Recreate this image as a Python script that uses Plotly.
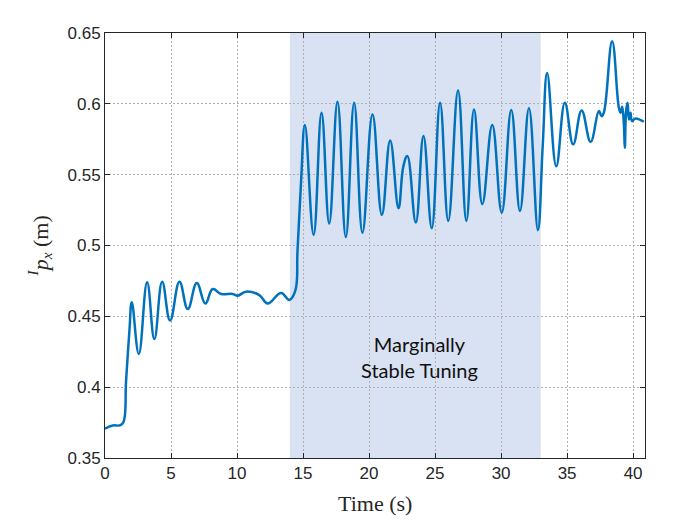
import plotly.graph_objects as go

# Signal samples (time in s, position in m)
time_s = [0.0, 0.59, 1.1, 1.38, 1.6, 1.85, 2.03, 2.56, 3.19, 3.74, 4.33, 4.93, 5.64, 6.27, 6.95,
          7.6, 8.16, 8.79, 9.67, 10.05, 10.68, 11.69, 12.32, 13.33, 13.96, 14.41, 14.58,
          14.85, 15.14, 15.8, 16.4, 16.98, 17.61, 18.24, 18.87, 19.5, 20.26, 20.97, 21.6,
          22.23, 22.6, 22.9, 23.54, 24.12, 24.75, 25.38, 26.0, 26.74, 27.37, 27.95, 28.58,
          29.33, 30.05, 30.77, 31.43, 32.11, 32.79, 33.15, 33.49, 34.18, 34.83, 35.46, 36.1,
          36.78, 37.41, 37.61, 37.78, 38.41, 38.92, 39.05, 39.17, 39.3, 39.37, 39.47, 39.58,
          39.68, 39.8, 39.92, 40.18, 40.81]
position_m = [0.3707, 0.373, 0.373, 0.375, 0.405, 0.440, 0.460, 0.4235, 0.474, 0.434, 0.4744, 0.447,
              0.4744, 0.4552, 0.4735, 0.459, 0.4693, 0.4658, 0.4658, 0.4646, 0.4674, 0.465,
              0.459, 0.4665, 0.4616, 0.468, 0.496, 0.545, 0.585, 0.5075, 0.5937, 0.5155,
              0.6014, 0.506, 0.6007, 0.509, 0.5925, 0.5216, 0.5742, 0.5263, 0.556, 0.5632,
              0.5162, 0.5773, 0.5122, 0.6007, 0.5174, 0.6094, 0.5174, 0.596, 0.5292, 0.585,
              0.5232, 0.5956, 0.5244, 0.5968, 0.5108, 0.57, 0.6218, 0.556, 0.6007, 0.5714,
              0.5953, 0.5732, 0.5949, 0.5913, 0.5937, 0.6442, 0.5972, 0.5937, 0.598, 0.5855,
              0.569, 0.5949, 0.6007, 0.589, 0.5937, 0.5878, 0.5897, 0.5873]

shade_start, shade_end = 14, 33
annotation_text = "Marginally<br>Stable Tuning"

x_ticks = [0, 5, 10, 15, 20, 25, 30, 35, 40]
y_ticks = [0.35, 0.4, 0.45, 0.5, 0.55, 0.6, 0.65]
y_tick_labels = ["0.35", "0.4", "0.45", "0.5", "0.55", "0.6", "0.65"]

fig = go.Figure()
fig.add_trace(go.Scatter(
    x=time_s, y=position_m, mode="lines",
    line=dict(color="#0072BD", width=2.5, shape="spline", smoothing=1.2),
    hoverinfo="skip", showlegend=False))

fig.add_shape(type="rect", xref="x", yref="paper", x0=shade_start, x1=shade_end,
              y0=0, y1=1, fillcolor="#D9E2F3", line=dict(width=0), layer="below")

fig.add_annotation(x=(shade_start + shade_end) / 2 + 0.3, y=0.421, xref="x", yref="y",
                   text=annotation_text, showarrow=False,
                   font=dict(family="Lato", size=20, color="#111111"), align="center")

axis_common = dict(showline=True, linecolor="#262626", linewidth=1, mirror="ticks",
                   ticks="inside", ticklen=5, tickcolor="#262626",
                   showgrid=True, gridcolor="#b0b0b0", griddash="2px,2px", gridwidth=1,
                   zeroline=False,
                   tickfont=dict(family="Liberation Sans, Arial", size=17, color="#262626"))

fig.update_xaxes(range=[0, 40.9], tickvals=x_ticks, **axis_common)
fig.update_yaxes(range=[0.35, 0.65], tickvals=y_ticks, ticktext=y_tick_labels, **axis_common)

fig.add_annotation(xref="paper", yref="paper", x=0.5, y=-0.106, text="Time (s)",
                   showarrow=False, yanchor="middle",
                   font=dict(family="Liberation Serif, DejaVu Serif", size=22, color="#262626"))
fig.add_annotation(xref="paper", yref="paper", x=-0.1204, y=0.5,
                   text="<sup><i>I</i></sup><i>p</i><sub><i>x</i></sub> (m)",
                   textangle=-90, showarrow=False, xanchor="center", yanchor="middle",
                   font=dict(family="Liberation Serif, DejaVu Serif", size=22, color="#262626"))

fig.update_layout(width=700, height=525, paper_bgcolor="white", plot_bgcolor="white",
                  margin=dict(l=97, r=63, t=25, b=75), showlegend=False)

fig.write_html("out.html")
